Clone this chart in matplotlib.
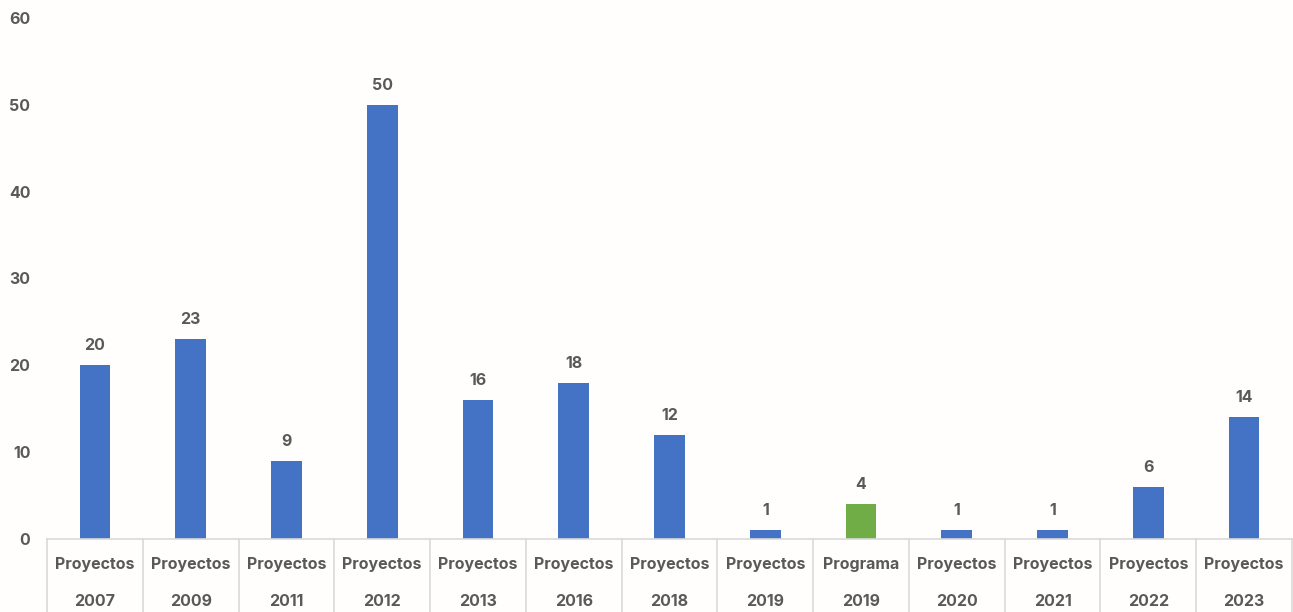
import matplotlib
matplotlib.use("Agg")
import matplotlib.pyplot as plt
import matplotlib.transforms as mtransforms

types = ["Proyectos"] * 8 + ["Programa"] + ["Proyectos"] * 4
years = ["2007", "2009", "2011", "2012", "2013", "2016", "2018", "2019",
         "2019", "2020", "2021", "2022", "2023"]
values = [20, 23, 9, 50, 16, 18, 12, 1, 4, 1, 1, 6, 14]
bar_colors = ["#4472C4"] * 8 + ["#70AD47"] + ["#4472C4"] * 4

plt.rcParams['font.family'] = ['Inter', 'DejaVu Sans']
text_color = "#595959"
bg = "#FFFEFD"

fig = plt.figure(figsize=(12.93, 6.12), dpi=100, facecolor=bg)
W, H = 1293, 612
ax = fig.add_axes([47 / W, 73 / H, (1292 - 47) / W, (539 - 18) / H])
ax.set_facecolor(bg)

x = list(range(len(values)))
ax.bar(x, values, width=0.32, color=bar_colors, zorder=2)
ax.set_xlim(-0.5, len(values) - 0.5)
ax.set_ylim(0, 60)
ax.set_yticks(range(0, 61, 10))
ax.tick_params(axis='y', length=0, pad=12, labelsize=11.5, labelcolor=text_color)
for lbl in ax.get_yticklabels():
    lbl.set_fontweight('bold')
ax.set_xticks([])
for s in ["top", "right", "left"]:
    ax.spines[s].set_visible(False)
ax.spines["bottom"].set_color("#D9D9D9")
ax.spines["bottom"].set_linewidth(1.2)

for xi, v in zip(x, values):
    ax.annotate(str(v), (xi, v), xytext=(0, 14), textcoords="offset points",
                ha="center", va="center", fontsize=11.5, fontweight="bold",
                color=text_color)

trans = mtransforms.blended_transform_factory(ax.transData, ax.transAxes)
for i in range(len(values) + 1):
    ax.plot([i - 0.5, i - 0.5], [0, -73 / (539 - 18)], transform=trans,
            color="#D9D9D9", lw=1.2, clip_on=False)
for xi, t, yr in zip(x, types, years):
    ax.text(xi, -25 / (539 - 18), t, transform=trans, ha="center", va="center",
            fontsize=11.5, fontweight="bold", color=text_color)
    ax.text(xi, -63 / (539 - 18), yr, transform=trans, ha="center", va="center",
            fontsize=11.5, fontweight="bold", color=text_color)

fig.savefig("out.png", dpi=100, facecolor=bg)
